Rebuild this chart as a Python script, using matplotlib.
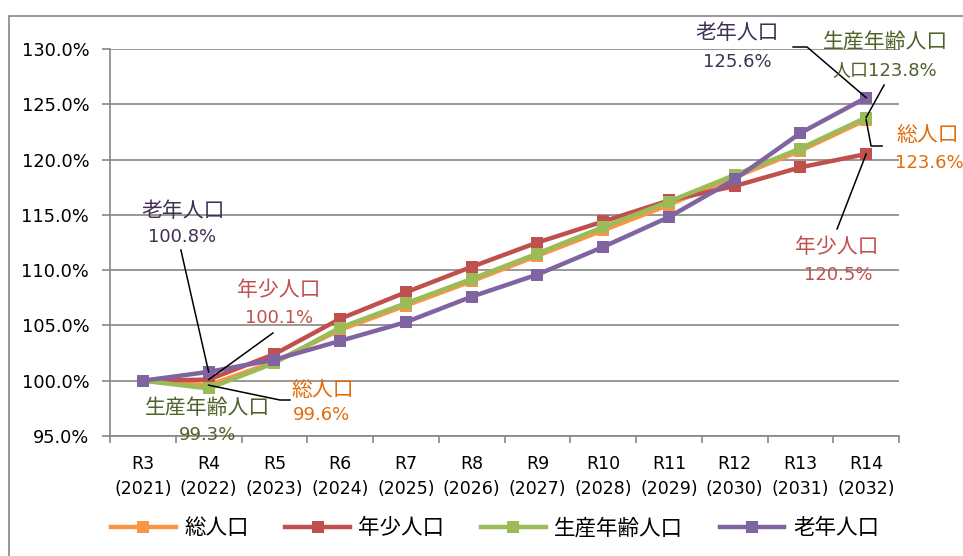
import matplotlib
matplotlib.use("Agg")
import matplotlib.pyplot as plt
from matplotlib.patches import Rectangle
from matplotlib.ticker import FuncFormatter, FixedLocator

plt.rcParams['font.family'] = ['DejaVu Sans', 'Noto Sans CJK JP']

categories = ["R3\n(2021)", "R4\n(2022)", "R5\n(2023)", "R6\n(2024)", "R7\n(2025)", "R8\n(2026)",
              "R9\n(2027)", "R10\n(2028)", "R11\n(2029)", "R12\n(2030)", "R13\n(2031)", "R14\n(2032)"]
series_names = ["総人口", "年少人口", "生産年齢人口", "老年人口"]
total = [100.0, 99.6, 101.7, 104.6, 106.8, 109.0, 111.3, 113.6, 115.9, 118.4, 120.8, 123.6]
young = [100.0, 100.1, 102.4, 105.6, 108.0, 110.3, 112.5, 114.4, 116.3, 117.6, 119.3, 120.5]
working = [100.0, 99.3, 101.6, 104.8, 107.0, 109.2, 111.5, 113.9, 116.2, 118.6, 121.0, 123.8]
elderly = [100.0, 100.8, 101.9, 103.6, 105.3, 107.6, 109.6, 112.1, 114.8, 118.2, 122.4, 125.6]
yticks = [95, 100, 105, 110, 115, 120, 125, 130]

colors = ["#F79646", "#C0504D", "#9BBB59", "#8064A2"]
text_colors = ["#E36C09", "#C0504D", "#4F6228", "#403152"]

W, H = 963, 556
fig = plt.figure(figsize=(W / 100, H / 100), dpi=100)
ax = fig.add_axes([110 / W, 1 - 436 / H, (899 - 110) / W, (436 - 49) / H])

x = list(range(len(categories)))
all_series = [total, young, working, elderly]
handles = []
for vals, c, name in zip(all_series, colors, series_names):
    h, = ax.plot(x, vals, color=c, lw=3.2, marker='s', markersize=9,
                 markeredgewidth=0, label=name, zorder=3, clip_on=False)
    handles.append(h)

ax.set_xlim(-0.5, len(categories) - 0.5)
ax.set_ylim(95, 130)
ax.set_yticks(yticks)
ax.yaxis.set_major_formatter(FuncFormatter(lambda v, p: f"{v:.1f}%"))
ax.set_xticks(x)
ax.set_xticklabels(categories, fontsize=12.5, linespacing=1.45)
ax.xaxis.set_minor_locator(FixedLocator([i - 0.5 for i in range(len(categories) + 1)]))
ax.tick_params(axis='x', which='major', length=0, pad=14)
ax.tick_params(axis='x', which='minor', length=5, width=1.2, color='#868686', direction='out')
ax.tick_params(axis='y', which='major', length=6, width=1.2, color='#868686', labelsize=12.8, pad=9)
ax.grid(axis='y', color='#868686', lw=1.2, zorder=0)
for s in ['top', 'right']:
    ax.spines[s].set_visible(False)
for s in ['left', 'bottom']:
    ax.spines[s].set_color('#868686')
    ax.spines[s].set_linewidth(1.2)

# figure frame
fig.add_artist(Rectangle((9 / W, -0.1), 2.0, 1.1 - 16 / H, transform=fig.transFigure,
                         fill=False, edgecolor='#868686', lw=1.2))


def d(px, py):
    return ((px - 143) / 65.73, 130 - (py - 49) / 11.057)


def label(name_px, val_px, name, val, color):
    ax.text(*d(*name_px), name, ha='center', va='center', fontsize=15, color=color,
            clip_on=False, zorder=6)
    ax.text(*d(*val_px), val, ha='center', va='center', fontsize=13, color=color,
            clip_on=False, zorder=6)


def leader(pts_px, xi, yv):
    xs = [d(*p)[0] for p in pts_px] + [xi]
    ys = [d(*p)[1] for p in pts_px] + [yv]
    ax.plot(xs, ys, color='black', lw=1.1, zorder=5, clip_on=False)


# left-side labels (R4)
i = 1
label((183, 211), (182, 237), "老年人口", f"{elderly[i]:.1f}%", text_colors[3])
leader([(181, 250)], i, elderly[i])
label((279, 290), (279, 318), "年少人口", f"{young[i]:.1f}%", text_colors[1])
leader([(273, 333)], i, young[i])
label((323, 390), (322, 415), "総人口", f"{total[i]:.1f}%", text_colors[0])
leader([(290, 400), (280, 400)], i, total[i])
label((208, 408), (208, 435), "生産年齢人口", f"{working[i]:.1f}%", text_colors[2])

# right-side labels (R14)
i = 11
label((737, 33), (737, 62), "老年人口", f"{elderly[i]:.1f}%", text_colors[3])
leader([(793, 47), (807, 47)], i, elderly[i])
label((885, 42), (885, 70), "生産年齢人口", f"人口{working[i]:.1f}%", text_colors[2])
leader([(884, 85)], i, working[i])
label((928, 135), (929, 163), "総人口", f"{total[i]:.1f}%", text_colors[0])
leader([(882, 146), (871, 146)], i, total[i])
label((837, 247), (838, 275), "年少人口", f"{young[i]:.1f}%", text_colors[1])
leader([(837, 229)], i, young[i])

fig.legend(handles=handles, labels=series_names, loc='center', ncol=4,
           bbox_to_anchor=(495 / W, 1 - 528 / H), frameon=False, fontsize=15.5,
           handlelength=3.0, handletextpad=0.4, columnspacing=1.7)

fig.savefig("out.png", dpi=100)
